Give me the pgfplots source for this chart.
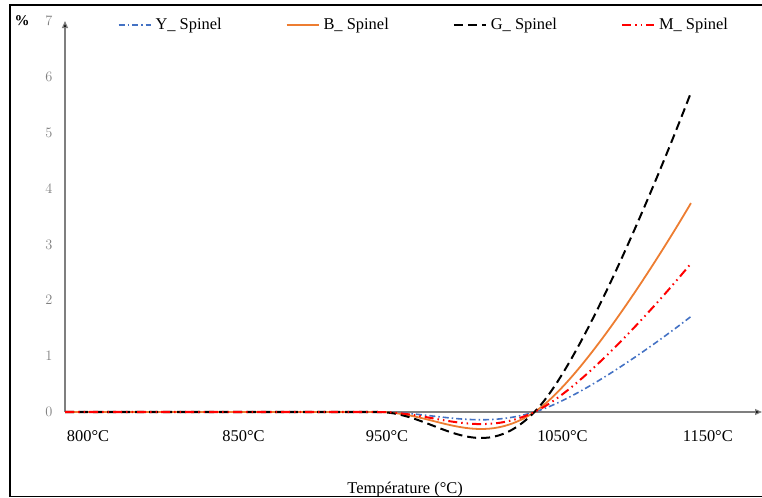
\documentclass[border=0pt]{standalone}
\usepackage{fontspec}
\setmainfont{Liberation Serif}
\usepackage{pgfplots}
\pgfplotsset{compat=1.18}
\usetikzlibrary{arrows.meta}

\definecolor{ybl}{HTML}{4472C4}
\definecolor{bor}{HTML}{ED7D31}
\definecolor{mrd}{HTML}{FF0000}
\definecolor{axgr}{HTML}{7F7F7F}

\begin{document}
\begin{tikzpicture}
\useasboundingbox (0,0) rectangle (762bp,498bp);
% frame (open on the right, as in the source)
\draw[line width=1.8bp] (762bp,493bp) -- (10bp,493bp) -- (10bp,1.5bp) -- (762bp,1.5bp);

\begin{axis}[
    at={(65bp,86bp)}, anchor=south west,
    scale only axis,
    width=697bp, height=391bp,
    xmin=0, xmax=4.454,
    ymin=0, ymax=7,
    axis lines=left,
    axis line style={draw=axgr, line width=1.2bp},
    x axis line style={-{Triangle[width=6bp,length=7bp,fill=black]}},
    y axis line style={-{Triangle[width=6bp,length=7bp,fill=black]}},
    major tick length=0pt,
    clip=false,
    ytick={0,1,2,3,4,5,6,7},
    yticklabel style={font=\fontsize{14.5}{16}\selectfont, text=axgr, xshift=-9bp},
    xtick={0.147,1.141,2.058,3.179,4.108},
    xticklabels={800°C,850°C,950°C,1050°C,1150°C},
    xticklabel style={font=\fontsize{16.5}{18}\selectfont, anchor=base, yshift=-29bp},
    xlabel={Température (°C)},
    xlabel style={font=\fontsize{16.5}{18}\selectfont, at={(axis description cs:0.488,0)}, anchor=base, yshift=-81bp},
    legend columns=4,
    legend style={at={(rel axis cs:0.515,1)}, anchor=center, yshift=-4bp, draw=none, fill=none,
        font=\fontsize{16.5}{18}\selectfont,
        /tikz/every even column/.append style={column sep=62bp},
        /tikz/every odd column/.append style={column sep=2bp}},
    legend image code/.code={\draw[#1] (0bp,0bp) -- (32bp,0bp);},
    every axis plot/.append style={smooth, tension=0.66},
]
\addplot[ybl, line width=1.6bp, dash pattern=on 6bp off 3bp on 1.5bp off 3bp] coordinates {
    (0,0) (1,0) (2,0) (3,0) (4,1.71)
};
\addlegendentry{Y\_ Spinel}
\addplot[bor, line width=1.8bp] coordinates {
    (0,0) (1,0) (2,0) (3,0) (4,3.74)
};
\addlegendentry{B\_ Spinel}
\addplot[black, line width=2bp, dash pattern=on 9bp off 5bp] coordinates {
    (0,0) (1,0) (2,0) (3,0) (4,5.72)
};
\addlegendentry{G\_ Spinel}
\addplot[mrd, line width=2bp, dash pattern=on 9bp off 4bp on 1.5bp off 4bp on 1.5bp off 4bp] coordinates {
    (0,0) (1,0) (2,0) (3,0) (4,2.66)
};
\addlegendentry{M\_ Spinel}

\node[font=\fontsize{15}{17}\selectfont\bfseries, anchor=center] at (axis cs:0,7) [xshift=-43bp] {\%};
\end{axis}
\end{tikzpicture}
\end{document}
